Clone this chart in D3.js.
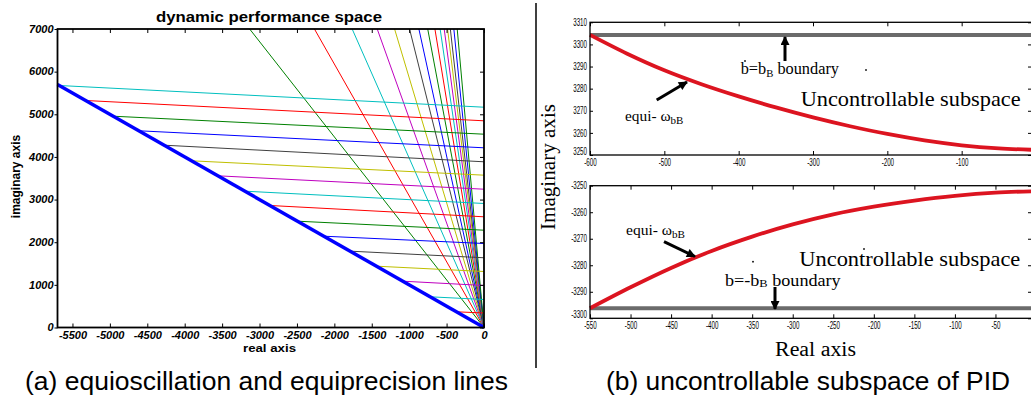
<!DOCTYPE html>
<html><head><meta charset="utf-8">
<script src="https://cdn.jsdelivr.net/npm/d3@7"></script>
<style>body{margin:0;background:#fff}svg{display:block}</style>
</head><body>
<script>
// ---------- panel (a) data ----------
const aXTicks = [-5500,-5000,-4500,-4000,-3500,-3000,-2500,-2000,-1500,-1000,-500,0];
const aYTicks = [0,1000,2000,3000,4000,5000,6000,7000];
const boundaryLine = [[-5700,5700],[0,0]];
const equiStartY = [5675,5323,4955,4613,4275,3909,3557,3197,2861,2493,2141,1790,1438,1086,720,368];
const equiEndY   = [5166,4847,4533,4214,3886,3572,3243,2908,2596,2282,1970,1635,1313,985,657,340];
const equiColors = ["#00bfbf","#ff0000","#008000","#0000ff","#404040","#bfbf00","#bf00bf","#00bfbf","#ff0000","#008000","#0000ff","#404040","#bfbf00","#bf00bf","#00bfbf","#ff0000"];
const radialTopX = [-3132,-2266,-1762,-1427,-1195,-995,-870,-752,-656,-586,-532,-487,-450,-403,-358];
const radialColors = ["#008000","#ff0000","#00bfbf","#bf00bf","#bfbf00","#404040","#0000ff","#008000","#ff0000","#00bfbf","#bf00bf","#bfbf00","#404040","#0000ff","#008000"];

// ---------- panel (b) data ----------
const bTopXTicks = [-600,-500,-400,-300,-200,-100];
const bTopYTicks = [3250,3260,3270,3280,3290,3300,3310];
const bTopCurveX = [-600,-550,-500,-450,-400,-350,-300,-250,-200,-150,-100,-50,0];
const bTopCurveY = [3304.3,3295.8,3288.3,3282.0,3276.5,3271.5,3267.0,3263.0,3259.5,3256.6,3254.4,3253.0,3252.3];
const bTopBoundary = 3304.3;
const bBotXTicks = [-550,-500,-450,-400,-350,-300,-250,-200,-150,-100,-50];
const bBotYTicks = [-3300,-3290,-3280,-3270,-3260,-3250];
const bBotCurveX = [-550,-500,-450,-400,-350,-300,-250,-200,-150,-100,-50,0];
const bBotCurveY = [-3296.2,-3288.3,-3281.0,-3274.6,-3269.2,-3264.6,-3260.8,-3257.9,-3255.6,-3253.8,-3252.6,-3252.1];
const bBotBoundary = -3296.2;

const svg = d3.select("body").append("svg").attr("width",1031).attr("height",400);
const defs = svg.append("defs");
defs.append("marker").attr("id","ah").attr("viewBox","0 0 10 10").attr("refX",9).attr("refY",5)
  .attr("markerWidth",11).attr("markerHeight",9).attr("markerUnits","userSpaceOnUse").attr("orient","auto")
  .append("path").attr("d","M0,0 L10,5 L0,10 Z").attr("fill","#000");

function stretch(sel,k){ sel.each(function(){ const w=this.getComputedTextLength(); d3.select(this).attr("textLength",w*k).attr("lengthAdjust","spacingAndGlyphs"); }); }
const fmt = d => String(d);

// ================= panel (a) =================
const ax = d3.scaleLinear().domain([-5700,0]).range([57.5,484]);
const ay = d3.scaleLinear().domain([0,7000]).range([327.5,29]);
const aLine = d3.line().x(d=>ax(d[0])).y(d=>ay(d[1]));
const pa = svg.append("g");

pa.selectAll(".rad").data(radialTopX).join("path").attr("class","rad")
  .attr("d",(d)=>aLine([[0,0],[d,7000]])).attr("fill","none")
  .attr("stroke",(d,i)=>radialColors[i]).attr("stroke-width",1);
pa.selectAll(".equi").data(equiStartY).join("path").attr("class","equi")
  .attr("d",(d,i)=>aLine([[-d,d],[0,equiEndY[i]]])).attr("fill","none")
  .attr("stroke",(d,i)=>equiColors[i]).attr("stroke-width",1);
pa.append("path").attr("d",aLine(boundaryLine)).attr("fill","none").attr("stroke","#0000ff").attr("stroke-width",3.5);

const axB = pa.append("g").attr("transform",`translate(0,${ay(0)})`)
  .call(d3.axisBottom(ax).tickValues(aXTicks).tickSizeInner(-4).tickSizeOuter(0).tickFormat(fmt));
axB.select(".domain").remove();
axB.selectAll("text").attr("y",4).attr("font-family","Liberation Sans, Arial").attr("font-weight","bold").attr("font-style","italic").attr("font-size",10).attr("fill","#000");
stretch(axB.selectAll("text"),1.1);
const axT = pa.append("g").attr("transform",`translate(0,${ay(7000)})`)
  .call(d3.axisTop(ax).tickValues(aXTicks).tickSizeInner(-4).tickSizeOuter(0).tickFormat(""));
axT.select(".domain").remove();
const axL = pa.append("g").attr("transform",`translate(${ax(-5700)},0)`)
  .call(d3.axisLeft(ay).tickValues(aYTicks).tickSizeInner(3).tickSizeOuter(0).tickPadding(1).tickFormat(fmt));
axL.select(".domain").remove();
axL.selectAll("text").attr("font-family","Liberation Sans, Arial").attr("font-weight","bold").attr("font-style","italic").attr("font-size",10).attr("fill","#000");
stretch(axL.selectAll("text"),1.1);
const axR = pa.append("g").attr("transform",`translate(${ax(0)},0)`)
  .call(d3.axisRight(ay).tickValues(aYTicks).tickSizeInner(-4).tickSizeOuter(0).tickFormat(""));
axR.select(".domain").remove();
pa.append("rect").attr("x",ax(-5700)).attr("y",ay(7000)).attr("width",ax(0)-ax(-5700)).attr("height",ay(0)-ay(7000))
  .attr("fill","none").attr("stroke","#000").attr("stroke-width",1.8);

pa.append("text").attr("x",156).attr("y",21.5).attr("font-family","Liberation Sans, Arial").attr("font-weight","bold").attr("font-size",14)
  .attr("textLength",226).attr("lengthAdjust","spacingAndGlyphs").text("dynamic performance space");
pa.append("text").attr("x",243).attr("y",352).attr("font-family","Liberation Sans, Arial").attr("font-weight","bold").attr("font-size",11.5)
  .attr("textLength",53).attr("lengthAdjust","spacingAndGlyphs").text("real axis");
pa.append("text").attr("transform","translate(19.5,176.5) rotate(-90)").attr("text-anchor","middle").attr("font-family","Liberation Sans, Arial").attr("font-weight","bold").attr("font-size",12)
  .text("imaginary axis");
svg.append("text").attr("x",25).attr("y",390).attr("font-family","Liberation Sans, Arial").attr("font-size",26)
  .attr("textLength",483).attr("lengthAdjust","spacingAndGlyphs").text("(a) equioscillation and equiprecision lines");

// ================= panel (b) =================
svg.append("line").attr("x1",536).attr("x2",536).attr("y1",3).attr("y2",368).attr("stroke","#000").attr("stroke-width",1.5);
const tickFont = sel => { sel.attr("font-family","Liberation Sans, Arial").attr("font-size",10).attr("fill","#000"); stretch(sel,0.62); };

function subplot(xDom, yDom, yRange, xTicks, yTicks, cx, cy, boundary){
  const xs = d3.scaleLinear().domain(xDom).range([590,1036]);
  const ys = d3.scaleLinear().domain(yDom).range(yRange);
  const g = svg.append("g");
  const b = g.append("g").attr("transform",`translate(0,${yRange[0]})`)
    .call(d3.axisBottom(xs).tickValues(xTicks).tickSizeInner(-4).tickSizeOuter(0).tickFormat(fmt));
  b.select(".domain").remove(); b.selectAll("text").attr("y",4); tickFont(b.selectAll("text"));
  const t = g.append("g").attr("transform",`translate(0,${yRange[1]})`)
    .call(d3.axisTop(xs).tickValues(xTicks).tickSizeInner(-4).tickSizeOuter(0).tickFormat(""));
  t.select(".domain").remove();
  const l = g.append("g").attr("transform",`translate(590,0)`)
    .call(d3.axisLeft(ys).tickValues(yTicks).tickSizeInner(-3).tickSizeOuter(0).tickPadding(3).tickFormat(fmt));
  l.select(".domain").remove(); tickFont(l.selectAll("text"));
  l.selectAll("text").filter(d => d === yDom[0]).attr("dy","-0.05em");
  const r = g.append("g").attr("transform",`translate(1034,0)`)
    .call(d3.axisRight(ys).tickValues(yTicks).tickSizeInner(-6).tickSizeOuter(0).tickFormat(""));
  r.select(".domain").remove();
  g.append("line").attr("x1",xs(xDom[0])).attr("x2",xs(xDom[1])).attr("y1",ys(boundary)).attr("y2",ys(boundary))
    .attr("stroke","#6b6b6b").attr("stroke-width",4);
  g.append("path").attr("d",d3.line().x((d,i)=>xs(cx[i])).y(d=>ys(d)).curve(d3.curveMonotoneX)(cy))
    .attr("fill","none").attr("stroke","#dc1420").attr("stroke-width",3.8);
  g.append("rect").attr("x",590).attr("y",yRange[1]).attr("width",446).attr("height",yRange[0]-yRange[1])
    .attr("fill","none").attr("stroke","#000").attr("stroke-width",1.3);
  return {xs,ys,g};
}
const topPlot = subplot([-600,0],[3250,3310],[155,22.3],bTopXTicks,bTopYTicks,bTopCurveX,bTopCurveY,bTopBoundary);
const botPlot = subplot([-550,0],[-3300,-3250],[318.3,185.7],bBotXTicks,bBotYTicks,bBotCurveX,bBotCurveY,bBotBoundary);

const serif = "Liberation Serif, Times New Roman, serif";
function arrow(x1,y1,x2,y2){ svg.append("line").attr("x1",x1).attr("y1",y1).attr("x2",x2).attr("y2",y2)
  .attr("stroke","#000").attr("stroke-width",3).attr("marker-end","url(#ah)"); }
function dot(x,y){ svg.append("rect").attr("x",x-0.8).attr("y",y-0.8).attr("width",1.6).attr("height",1.6).attr("fill","#000"); }

let tb = svg.append("text").attr("x",740.7).attr("y",74).attr("font-family",serif).attr("font-size",16)
  .attr("textLength",98.3).attr("lengthAdjust","spacingAndGlyphs");
tb.append("tspan").text("b=b"); tb.append("tspan").attr("font-size",10.5).attr("dy",3).text("B"); tb.append("tspan").attr("dy",-3).text(" boundary");
dot(745,61); dot(866,70);
arrow(785,61,785,37);
svg.append("text").attr("x",800.7).attr("y",106).attr("font-family",serif).attr("font-size",21)
  .attr("textLength",220).attr("lengthAdjust","spacingAndGlyphs").text("Uncontrollable subspace");
let te = svg.append("text").attr("x",625).attr("y",120.7).attr("font-family",serif).attr("font-size",14)
  .attr("textLength",58.3).attr("lengthAdjust","spacingAndGlyphs");
te.append("tspan").text("equi- ω"); te.append("tspan").attr("font-size",10).attr("dy",3).text("bB");
arrow(656.7,100,687,82);

let bb = svg.append("text").attr("x",725).attr("y",286).attr("font-family",serif).attr("font-size",16)
  .attr("textLength",115.7).attr("lengthAdjust","spacingAndGlyphs");
bb.append("tspan").text("b=-b"); bb.append("tspan").attr("font-size",11).attr("dy",1).text("B"); bb.append("tspan").attr("dy",-1).text(" boundary");
arrow(775,287,775,309);
svg.append("text").attr("x",799.3).attr("y",266).attr("font-family",serif).attr("font-size",21)
  .attr("textLength",221).attr("lengthAdjust","spacingAndGlyphs").text("Uncontrollable subspace");
let be = svg.append("text").attr("x",626).attr("y",235).attr("font-family",serif).attr("font-size",14)
  .attr("textLength",59).attr("lengthAdjust","spacingAndGlyphs");
be.append("tspan").text("equi- ω"); be.append("tspan").attr("font-size",10).attr("dy",3).text("bB");
arrow(664,241.7,695,256.5);
dot(753,261.7); dot(864,249);

svg.append("text").attr("transform","translate(555,167) rotate(-90)").attr("text-anchor","middle").attr("font-family",serif).attr("font-size",21)
  .attr("textLength",126).attr("lengthAdjust","spacingAndGlyphs").text("Imaginary axis");
svg.append("text").attr("x",775).attr("y",356).attr("font-family",serif).attr("font-size",20)
  .attr("textLength",81).attr("lengthAdjust","spacingAndGlyphs").text("Real axis");
svg.append("text").attr("x",606).attr("y",390).attr("font-family","Liberation Sans, Arial").attr("font-size",26)
  .attr("textLength",404).attr("lengthAdjust","spacingAndGlyphs").text("(b) uncontrollable subspace of PID");
</script>
</body></html>
